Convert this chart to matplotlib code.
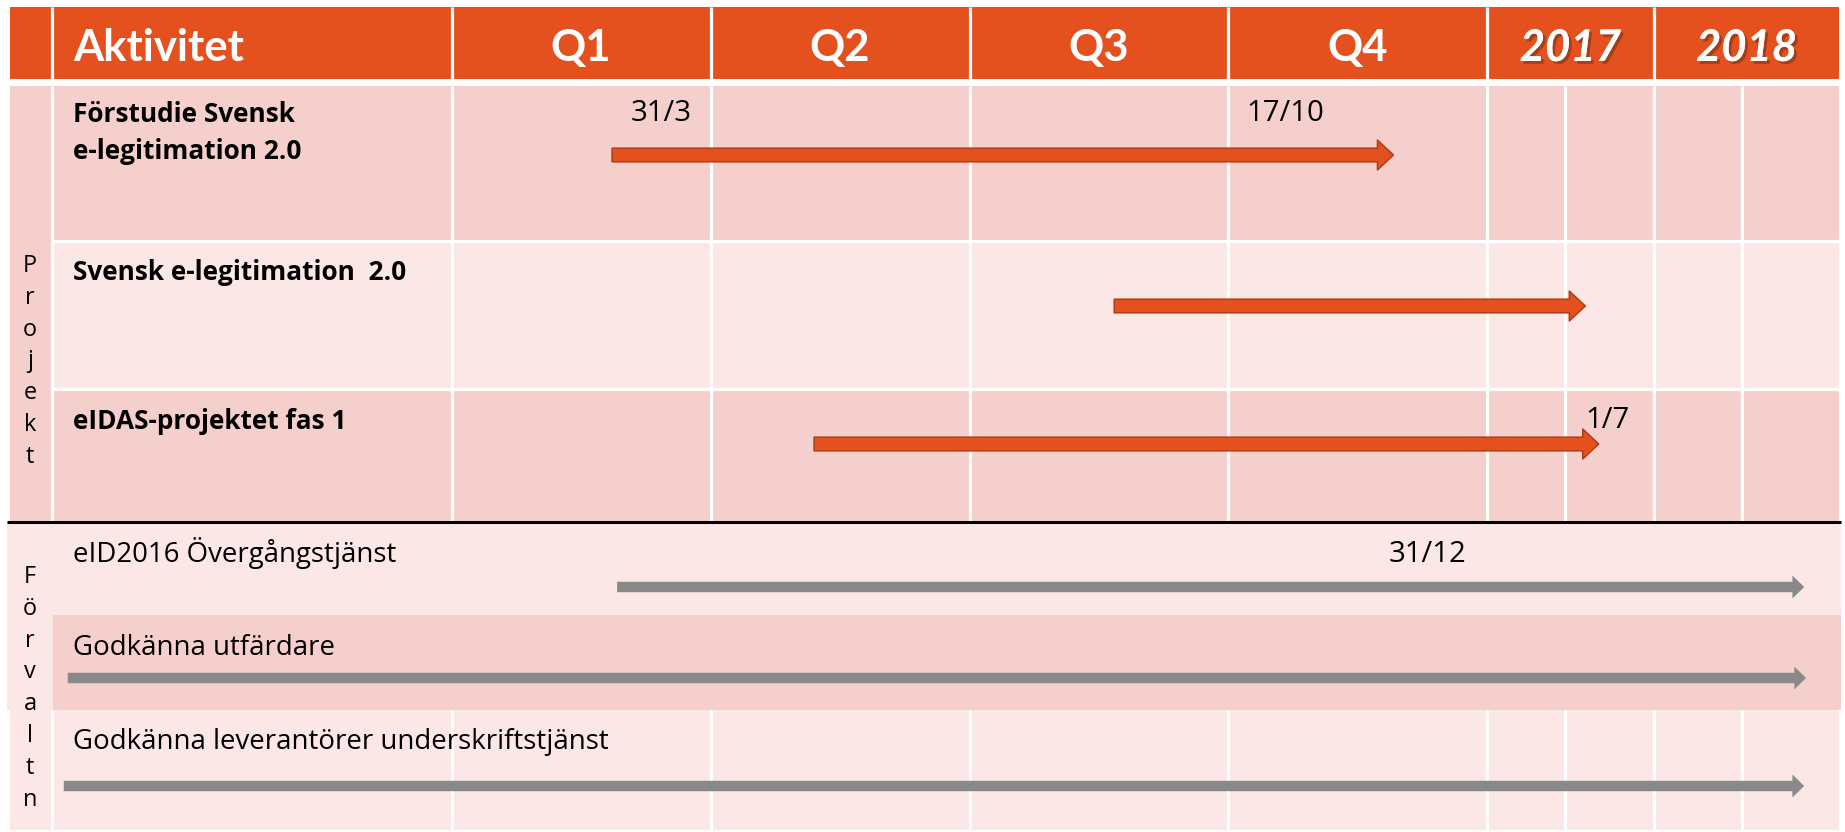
import numpy as np
import matplotlib
matplotlib.use("Agg")
import matplotlib.pyplot as plt
from matplotlib.patches import Rectangle, FancyArrowPatch, ArrowStyle
import matplotlib.patheffects as pe

# ---------------- data ----------------
header_labels = ["Aktivitet", "Q1", "Q2", "Q3", "Q4", "2017", "2018"]
header_italic = [False, False, False, False, False, True, True]
group_labels = ["Projekt", "Förvaltn"]
activities = ["Förstudie Svensk\ne-legitimation 2.0",
              "Svensk e-legitimation  2.0",
              "eIDAS-projektet fas 1",
              "eID2016 Övergångstjänst",
              "Godkänna utfärdare",
              "Godkänna leverantörer underskriftstjänst"]
activity_group = [0, 0, 0, 1, 1, 1]
# arrow start / end in period units:
# -1..0 activity column, 0..4 = Q1..Q4, 4..5 = 2017, 5..6 = 2018
arrow_start = [0.62, 2.56, 1.40, 0.64, -0.96, -0.97]
arrow_end = [3.64, 4.59, 4.67, 5.81, 5.82, 5.81]
date_labels = ["31/3", "17/10", "1/7", "31/12"]
date_rows = [0, 0, 2, 3]
date_pos = [0.69, 3.07, 4.59, 3.62]

# ---------------- layout / style ----------------
W, H, DPI = 1845, 832, 100
X_UNITS = [-3, -2, -1, 0, 1, 2, 3, 4, 5, 6, 7]
X_PX = [-32.5, 10, 52, 451.5, 710.5, 969.5, 1228, 1486.5, 1654, 1839, 2024]
Y_UNITS = [-2, -1, 0, 1, 2, 3, 4, 5, 6, 7]
Y_PX = [-73, 7, 86, 241, 388.5, 522, 615, 710, 830, 950]

ORANGE = "#E4511E"
DARK = "#F5CFCC"
LIGHT = "#FAE7E6"
EDGE = "#B03C17"
GRAY = "#898989"
HFONT = "Lato"
BFONT = "Open Sans"

row_colors = [DARK, LIGHT, DARK, LIGHT, DARK, LIGHT]
arrow_y_px = [155, 306, 444, 587, 678, 786]
label_base_px = [122, 280, 429, 562, 655, 749]
date_base_px = [121, 121, 428, 562]
group_base_px = [272, 583]
sub_dividers = [4.47, 5.476]


def fx(u):
    return np.interp(u, X_UNITS, X_PX)


def fxi(p):
    return np.interp(p, X_PX, X_UNITS)


def fy(u):
    return np.interp(u, Y_UNITS, Y_PX)


def fyi(p):
    return np.interp(p, Y_PX, Y_UNITS)


fig = plt.figure(figsize=(W / DPI, H / DPI), dpi=DPI)
ax = fig.add_axes([0, 0, 1, 1])
ax.set_xscale("function", functions=(fx, fxi))
ax.set_yscale("function", functions=(fy, fyi))
ax.set_autoscale_on(False)
ax.set_xlim(float(fxi(0)), float(fxi(W)))
ax.set_ylim(float(fyi(H)), float(fyi(0)))
ax.axis("off")
renderer = fig.canvas.get_renderer()


def fit_size(text, family, weight, target_px, style="normal", base=20.0):
    t = fig.text(0, 0, text, fontsize=base, family=family, fontweight=weight,
                 style=style)
    w = t.get_window_extent(renderer).width
    t.remove()
    return base * target_px / w


hdr_size = fit_size("Aktivitet", HFONT, "bold", 171)
bold_size = fit_size("Förstudie Svensk", BFONT, "bold", 223)
reg_size = fit_size("Godkänna leverantörer underskriftstjänst", BFONT, "normal", 534)
date_size = reg_size * 1.06
grp_size = reg_size * 0.85

n_rows = len(activities)
n_cols = len(header_labels)
hdr_bottom = float(fyi(79))

# header
ax.add_patch(Rectangle((-2, -1), n_cols + 1, hdr_bottom + 1, facecolor=ORANGE,
                       edgecolor="none", zorder=1))
# row bands
for i in range(n_rows):
    ax.add_patch(Rectangle((-1, i), n_cols, 1, facecolor=row_colors[i],
                           edgecolor="none", zorder=1))
# group column cells
for g in range(len(group_labels)):
    rows = [i for i, gg in enumerate(activity_group) if gg == g]
    ax.add_patch(Rectangle((-2, min(rows)), 1, len(rows),
                           facecolor=DARK if g == 0 else LIGHT,
                           edgecolor="none", zorder=1))

# white grid lines
lw_white = 2.3
col_lines = list(range(-1, n_cols - 1))
ax.vlines(col_lines, -1, hdr_bottom, colors="white", lw=lw_white, zorder=2)
grid_x = col_lines + sub_dividers
ax.vlines(grid_x, 0, 3, colors="white", lw=lw_white, zorder=2)
ax.vlines(grid_x, 5, 6, colors="white", lw=lw_white, zorder=2)
ax.hlines([1, 2], -1, n_cols - 1, colors="white", lw=lw_white, zorder=2)

# Förvaltn overlay rows (no grid)
x_l, x_r = float(fxi(7)), float(fxi(1841))
x_b = float(fxi(52.5))
ax.add_patch(Rectangle((x_l, 3), x_r - x_l, 1, facecolor=LIGHT,
                       edgecolor="none", zorder=3))
ax.add_patch(Rectangle((x_l, 3), x_b - x_l, 2, facecolor=LIGHT,
                       edgecolor="none", zorder=3))
ax.add_patch(Rectangle((x_b, 4), x_r - x_b, 1, facecolor=DARK,
                       edgecolor="none", zorder=3))
# black separator between groups
ax.hlines([3], x_l, x_r, colors="black", lw=2.2, zorder=4)

# arrows
for i in range(n_rows):
    yc = float(fyi(arrow_y_px[i]))
    if activity_group[i] == 0:
        style = ArrowStyle.Simple(head_length=11.5, head_width=21.5, tail_width=9.8)
        fc, ec, lw = ORANGE, EDGE, 1.1
    else:
        style = ArrowStyle.Simple(head_length=8.0, head_width=15.6, tail_width=7.2)
        fc, ec, lw = GRAY, GRAY, 0.3
    ax.add_patch(FancyArrowPatch((arrow_start[i], yc), (arrow_end[i], yc),
                                 arrowstyle=style, mutation_scale=1,
                                 shrinkA=0, shrinkB=0, facecolor=fc,
                                 edgecolor=ec, lw=lw, zorder=5))

# header text
hdr_base = float(fyi(61))
shadow = [pe.withSimplePatchShadow(offset=(2, -2), shadow_rgbFace="#6b2a10", alpha=0.5),
          pe.Normal()]
for j, lab in enumerate(header_labels):
    if j == 0:
        x, ha = float(fxi(73)), "left"
    else:
        x, ha = j - 0.5, "center"
    ax.text(x, hdr_base, lab, ha=ha, va="baseline", color="white",
            fontsize=hdr_size, fontweight="bold", family=HFONT,
            style="italic" if header_italic[j] else "normal",
            path_effects=shadow if header_italic[j] else None, zorder=6)

# activity labels
lab_x = float(fxi(73))
for i, lab in enumerate(activities):
    for k, line in enumerate(lab.split("\n")):
        ax.text(lab_x, float(fyi(label_base_px[i] + 37 * k)), line,
                ha="left", va="baseline", color="black",
                fontsize=bold_size if activity_group[i] == 0 else reg_size,
                fontweight="bold" if activity_group[i] == 0 else "normal",
                family=BFONT, zorder=6)

# date labels
for lab, r, xp, yb in zip(date_labels, date_rows, date_pos, date_base_px):
    ax.text(xp, float(fyi(yb)), lab, ha="left", va="baseline", color="black",
            fontsize=date_size, family=BFONT, zorder=6)

# vertical group labels
gx = float(fxi(30))
for g, name in enumerate(group_labels):
    for k, ch in enumerate(name):
        ax.text(gx, float(fyi(group_base_px[g] + 31.8 * k)), ch, ha="center",
                va="baseline", color="black", fontsize=grp_size, family=BFONT,
                zorder=6)

fig.savefig("out.png", dpi=DPI, facecolor="white")
